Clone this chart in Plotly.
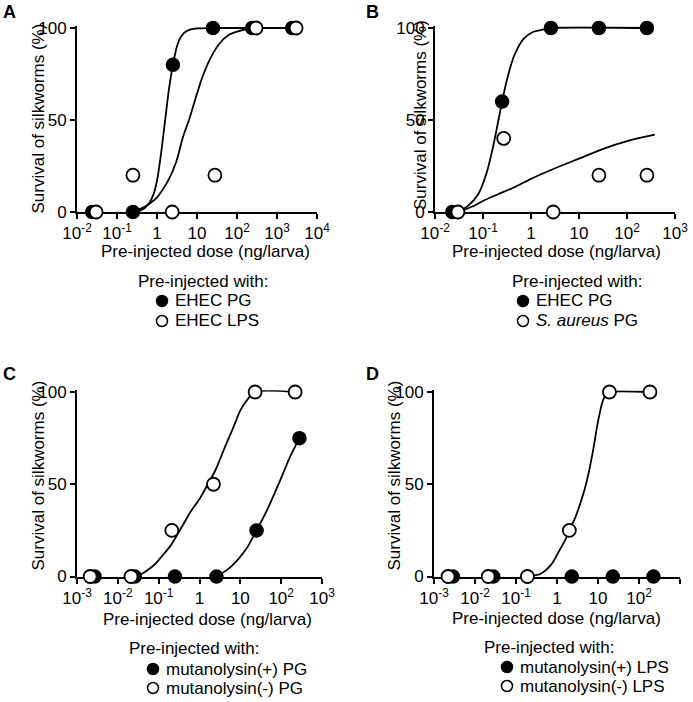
import plotly.graph_objects as go

# ---------------- data ----------------
# Panel A
a_dose_pg = [0.024, 0.25, 2.5, 25, 240, 2400]
a_surv_pg = [0, 0, 80, 100, 100, 100]
a_dose_lps = [0.03, 0.25, 2.4, 28, 300, 3000]
a_surv_lps = [0, 20, 0, 20, 100, 100]
a_fit_pg_x = [0.25, 0.4, 0.6, 0.8, 1.0, 1.25, 1.6, 2.0, 2.5, 3.2, 4.0, 5.0, 7, 10, 25, 2400]
a_fit_pg_y = [0, 1, 4, 9, 17, 31, 50, 67, 80, 90.5, 95.4, 97.7, 99.2, 99.8, 100, 100]
a_fit_lps_x = [0.25, 0.5, 1, 2, 3, 4.5, 6.3, 9, 13, 20, 35, 60, 100, 200, 300, 3000]
a_fit_lps_y = [0, 3, 8, 18, 27, 41, 50, 61, 72, 82, 91, 96, 98, 99.6, 100, 100]
a_ticks = [0.01, 0.1, 1, 10, 100, 1000, 10000]
a_ticktext = ["10<sup>-2</sup>", "10<sup>-1</sup>", "1", "10", "10<sup>2</sup>", "10<sup>3</sup>", "10<sup>4</sup>"]

# Panel B
b_dose_pg = [0.023, 0.25, 2.6, 26, 260]
b_surv_pg = [0, 60, 100, 100, 100]
b_dose_sa = [0.03, 0.27, 2.9, 26, 260]
b_surv_sa = [0, 40, 0, 20, 20]
b_fit_pg_x = [0.03, 0.05, 0.08, 0.12, 0.16, 0.21, 0.25, 0.32, 0.45, 0.7, 1.1, 2.0, 2.6, 260]
b_fit_pg_y = [0, 3.6, 9.8, 21.6, 34.8, 50, 60, 72.5, 85.2, 94.1, 97.8, 99.4, 100, 100]
b_fit_sa_x = [0.03, 0.06, 0.1, 0.2, 0.5, 1, 3, 10, 30, 100, 380]
b_fit_sa_y = [0, 3, 6, 9.5, 14, 18, 23.5, 29, 34, 38.5, 42]
b_ticks = [0.01, 0.1, 1, 10, 100, 1000]
b_ticktext = ["10<sup>-2</sup>", "10<sup>-1</sup>", "1", "10", "10<sup>2</sup>", "10<sup>3</sup>"]

# Panel C
c_dose_pos = [0.0027, 0.026, 0.25, 2.6, 25, 280]
c_surv_pos = [0, 0, 0, 0, 25, 75]
c_dose_neg = [0.0021, 0.021, 0.21, 2.2, 23, 220]
c_surv_neg = [0, 0, 25, 50, 100, 100]
c_fit_neg_x = [0.03, 0.05, 0.08, 0.12, 0.2, 0.35, 0.6, 1.0, 1.6, 2.5, 4, 6.8, 10, 15, 23, 220]
c_fit_neg_y = [0, 3, 6.5, 11, 17, 26, 35, 42, 50, 58, 69, 81, 90, 96, 100, 100]
c_fit_pos_x = [2.6, 5, 8.2, 14, 25, 45, 94, 166, 280]
c_fit_pos_y = [0, 4, 8.5, 15, 25, 36, 52, 65, 75]

# Panel D
d_dose_pos = [0.0029, 0.028, 2.3, 23, 225]
d_surv_pos = [0, 0, 0, 0, 0]
d_dose_neg = [0.0022, 0.021, 0.19, 2.0, 19, 185]
d_surv_neg = [0, 0, 0, 25, 100, 100]
d_fit_neg_x = [0.2, 0.4, 0.7, 1.14, 1.6, 2.0, 2.8, 3.5, 5.1, 7.4, 9.8, 13, 16, 19, 185]
d_fit_neg_y = [0, 1.5, 6, 14, 20, 25, 32, 38, 50, 67, 83, 95, 99, 100, 100]

cd_ticks = [0.001, 0.01, 0.1, 1, 10, 100, 1000]
cd_ticktext = ["10<sup>-3</sup>", "10<sup>-2</sup>", "10<sup>-1</sup>", "1", "10", "10<sup>2</sup>", "10<sup>3</sup>"]

y_ticks = [0, 50, 100]

x_title = "Pre-injected dose (ng/larva)"
y_title = "Survival of silkworms (%)"
legend_title = "Pre-injected with:"
labels_a = ["EHEC PG", "EHEC LPS"]
labels_b = ["EHEC PG", "<i>S. aureus</i> PG"]
labels_c = ["mutanolysin(+) PG", "mutanolysin(-) PG"]
labels_d = ["mutanolysin(+) LPS", "mutanolysin(-) LPS"]

# ---------------- layout helpers ----------------
W, H = 693, 702
FONT = "Liberation Sans, Arial, Helvetica, sans-serif"
FS = 17
Y_TOP = 101  # a little headroom so lines at 100 % are not clipped


def px(x):
    return x / W


def py(y):
    return 1 - y / H


fig = go.Figure()

panels = [
    ("", (77, 317), (28, 212), (-2, 4), a_ticks, a_ticktext,
     (a_dose_pg, a_surv_pg), (a_dose_lps, a_surv_lps),
     [(a_fit_pg_x, a_fit_pg_y), (a_fit_lps_x, a_fit_lps_y)], labels_a),
    ("2", (435, 675), (28, 212), (-2, 3), b_ticks, b_ticktext,
     (b_dose_pg, b_surv_pg), (b_dose_sa, b_surv_sa),
     [(b_fit_pg_x, b_fit_pg_y), (b_fit_sa_x, b_fit_sa_y)], labels_b),
    ("3", (77, 322), (392, 576.5), (-3, 3), cd_ticks, cd_ticktext,
     (c_dose_pos, c_surv_pos), (c_dose_neg, c_surv_neg),
     [(c_fit_neg_x, c_fit_neg_y), (c_fit_pos_x, c_fit_pos_y)], labels_c),
    ("4", (434, 680), (392, 576.5), (-3, 3), cd_ticks, cd_ticktext,
     (d_dose_pos, d_surv_pos), (d_dose_neg, d_surv_neg),
     [(d_fit_neg_x, d_fit_neg_y)], labels_d),
]

axis_common = dict(
    showline=True, linewidth=2, linecolor="black", ticks="outside",
    ticklen=5, tickwidth=2, tickcolor="black", showgrid=False, zeroline=False,
    tickfont=dict(family=FONT, size=FS, color="black"), layer="below traces",
    automargin=False,
)

for suf, dx, dy, xr, tv, tt, filled, opened, fits, labels in panels:
    xa = "x" + suf
    ya = "y" + suf
    for fx, fy in fits:
        fig.add_trace(go.Scatter(
            x=fx, y=fy, mode="lines", xaxis=xa, yaxis=ya, showlegend=False,
            line=dict(color="black", width=1.8, shape="spline", smoothing=0.8),
            cliponaxis=False, hoverinfo="skip"))
    fig.add_trace(go.Scatter(
        x=filled[0], y=filled[1], mode="markers", xaxis=xa, yaxis=ya,
        name=labels[0], showlegend=False, cliponaxis=False,
        marker=dict(size=13, color="black", line=dict(color="black", width=1.5))))
    fig.add_trace(go.Scatter(
        x=opened[0], y=opened[1], mode="markers", xaxis=xa, yaxis=ya,
        name=labels[1], showlegend=False, cliponaxis=False,
        marker=dict(size=13, color="white", line=dict(color="black", width=1.8))))

    unit = (dy[1] - dy[0]) / 100.0
    top = dy[1] - unit * Y_TOP
    fig.layout["xaxis" + suf] = dict(
        type="log", range=list(xr), domain=[px(dx[0]), px(dx[1])],
        anchor=ya, tickvals=tv, ticktext=tt, **axis_common)
    fig.layout["yaxis" + suf] = dict(
        range=[0, Y_TOP], domain=[py(dy[1]), py(top)], anchor=xa,
        tickvals=y_ticks, **axis_common)

annotations = []
shapes = []


def text(x, y, s, size=FS, anchor="center", bold=False, angle=0):
    annotations.append(dict(
        x=px(x), y=py(y), xref="paper", yref="paper", text=("<b>%s</b>" % s) if bold else s,
        showarrow=False, xanchor=anchor, yanchor="middle", textangle=angle,
        font=dict(family=FONT, size=size, color="black")))


def key(cx, cy, filled, d=11):
    shapes.append(dict(
        type="circle", xref="paper", yref="paper",
        x0=px(cx - d / 2), x1=px(cx + d / 2), y0=py(cy + d / 2), y1=py(cy - d / 2),
        fillcolor="black" if filled else "white",
        line=dict(color="black", width=1.5)))


# panel letters
text(9, 12, "A", size=18, bold=True)
text(372, 12, "B", size=18, bold=True)
text(9, 374, "C", size=18, bold=True)
text(373, 374, "D", size=18, bold=True)

# y titles
text(37.5, 119, y_title, angle=-90)
text(420, 115, y_title, angle=-90)
text(37.5, 476, y_title, angle=-90)
text(393.5, 476, y_title, angle=-90)

# x titles
text(205, 251, x_title)
text(556, 251, x_title)
text(207, 619, x_title)
text(556, 618, x_title)

# legends
legends = [
    (203, 281, 162, 301, 321, labels_a),
    (577, 281, 523, 301, 321, labels_b),
    (194, 648, 153, 669, 688, labels_c),
    (549, 647, 507, 667, 686, labels_d),
]
for tx, ty, mx, y1, y2, labs in legends:
    text(tx, ty, legend_title)
    key(mx, y1, True)
    key(mx, y2, False)
    text(mx + 11, y1, labs[0], anchor="left")
    text(mx + 11, y2, labs[1], anchor="left")

fig.update_layout(
    width=W, height=H, autosize=False,
    margin=dict(l=0, r=0, t=0, b=0, pad=0, autoexpand=False),
    paper_bgcolor="white", plot_bgcolor="white", showlegend=False,
    annotations=annotations, shapes=shapes,
    font=dict(family=FONT, size=FS, color="black"),
)

fig.write_html(
    "out.html",
    config={"displayModeBar": False, "responsive": False},
    post_script="document.body.style.margin='0';document.body.style.overflow='hidden';",
)
